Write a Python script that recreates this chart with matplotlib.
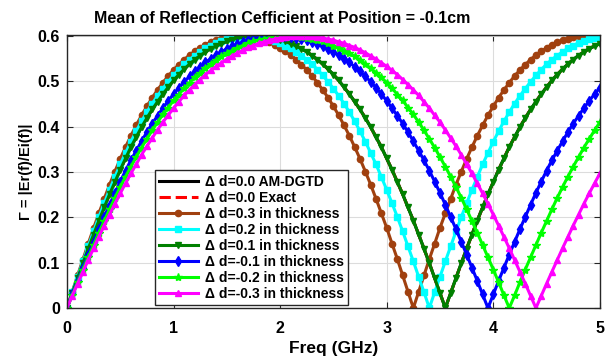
import numpy as np
import matplotlib
matplotlib.use("Agg")
import matplotlib.pyplot as plt

# Frequency samples (GHz), 0.05 GHz spacing
freq = np.round(np.arange(101) * 0.05, 2)

# |Er/Ei| values
base = [0.000, 0.033, 0.066, 0.099, 0.131, 0.162, 0.193, 0.222, 0.251, 0.278, 0.305, 0.330, 0.355, 0.377, 0.399, 0.419, 0.438, 0.455, 0.472, 0.487, 0.502, 0.515, 0.527, 0.538, 0.548, 0.557, 0.565, 0.572, 0.578, 0.583, 0.588, 0.592, 0.595, 0.597, 0.599, 0.600,
        0.600, 0.599, 0.597, 0.595, 0.592, 0.588, 0.583, 0.578, 0.572, 0.565, 0.557, 0.548, 0.538, 0.527, 0.515, 0.502, 0.487, 0.472, 0.455, 0.438, 0.419, 0.399, 0.377, 0.355, 0.330, 0.305, 0.278, 0.251, 0.222, 0.193, 0.162, 0.131, 0.099, 0.066, 0.033, 0.000,
        0.033, 0.066, 0.099, 0.131, 0.162, 0.193, 0.222, 0.251, 0.278, 0.305, 0.330, 0.355, 0.377, 0.399, 0.419, 0.438, 0.455, 0.472, 0.487, 0.502, 0.515, 0.527, 0.538, 0.548, 0.557, 0.565, 0.572, 0.578, 0.583]
exact = list(base)

thk_p03 = [0.000, 0.036, 0.072, 0.107, 0.142, 0.176, 0.209, 0.241, 0.272, 0.301, 0.329, 0.355, 0.380, 0.403, 0.425, 0.445, 0.464, 0.481, 0.497, 0.512, 0.525, 0.537, 0.548, 0.558, 0.566, 0.574, 0.581, 0.586, 0.591, 0.594, 0.597, 0.599, 0.600,
           0.600, 0.599, 0.597, 0.594, 0.591, 0.586, 0.581, 0.574, 0.566, 0.558, 0.548, 0.537, 0.525, 0.512, 0.497, 0.481, 0.464, 0.445, 0.425, 0.403, 0.380, 0.355, 0.329, 0.301, 0.272, 0.241, 0.209, 0.177, 0.142, 0.108, 0.072, 0.036, 0.000,
           0.036, 0.072, 0.108, 0.142, 0.177, 0.209, 0.241, 0.272, 0.301, 0.329, 0.355, 0.380, 0.403, 0.425, 0.445, 0.464, 0.481, 0.497, 0.512, 0.525, 0.537, 0.548, 0.558, 0.566, 0.574, 0.581, 0.586, 0.591, 0.594, 0.597, 0.599, 0.600, 0.600, 0.599, 0.597]

thk_p02 = [0.000, 0.035, 0.069, 0.103, 0.136, 0.169, 0.201, 0.231, 0.261, 0.289, 0.317, 0.342, 0.367, 0.390, 0.412, 0.432, 0.451, 0.468, 0.484, 0.499, 0.513, 0.526, 0.538, 0.548, 0.557, 0.565, 0.573, 0.579, 0.585, 0.589, 0.593, 0.596, 0.598, 0.599, 0.600,
           0.599, 0.598, 0.596, 0.593, 0.589, 0.585, 0.579, 0.573, 0.565, 0.557, 0.548, 0.538, 0.526, 0.513, 0.499, 0.484, 0.468, 0.451, 0.432, 0.412, 0.390, 0.367, 0.342, 0.317, 0.289, 0.261, 0.231, 0.201, 0.169, 0.136, 0.103, 0.069, 0.035, 0.000,
           0.035, 0.069, 0.103, 0.136, 0.169, 0.201, 0.231, 0.261, 0.289, 0.317, 0.342, 0.367, 0.390, 0.412, 0.432, 0.451, 0.468, 0.484, 0.499, 0.513, 0.526, 0.538, 0.548, 0.557, 0.565, 0.573, 0.579, 0.585, 0.589, 0.593, 0.596, 0.598]

# the +0.1 curve sits on top of the base curve
thk_p01 = list(base)

thk_m01 = [0.000, 0.030, 0.060, 0.089, 0.118, 0.146, 0.174, 0.201, 0.228, 0.254, 0.279, 0.303, 0.326, 0.347, 0.368, 0.388, 0.407, 0.424, 0.441, 0.457, 0.472, 0.486, 0.499, 0.511, 0.522, 0.532, 0.542, 0.550, 0.558, 0.565, 0.572, 0.577, 0.582, 0.587, 0.591, 0.594, 0.596, 0.598, 0.599, 0.600,
           0.600, 0.599, 0.598, 0.596, 0.594, 0.591, 0.587, 0.582, 0.577, 0.572, 0.565, 0.558, 0.550, 0.542, 0.532, 0.522, 0.511, 0.499, 0.486, 0.472, 0.457, 0.441, 0.424, 0.407, 0.388, 0.368, 0.347, 0.326, 0.303, 0.279, 0.254, 0.228, 0.201, 0.174, 0.146, 0.118, 0.089, 0.060, 0.030, 0.000,
           0.030, 0.060, 0.089, 0.118, 0.146, 0.174, 0.201, 0.228, 0.254, 0.279, 0.303, 0.326, 0.347, 0.368, 0.388, 0.407, 0.424, 0.441, 0.457, 0.472, 0.486]

thk_m02 = [0.000, 0.028, 0.057, 0.085, 0.112, 0.139, 0.166, 0.192, 0.218, 0.243, 0.267, 0.290, 0.312, 0.333, 0.354, 0.373, 0.392, 0.410, 0.427, 0.442, 0.458, 0.471, 0.485, 0.497, 0.509, 0.519, 0.529, 0.538, 0.547, 0.555, 0.562, 0.568, 0.574, 0.579, 0.584, 0.588, 0.591, 0.594, 0.596, 0.598, 0.599, 0.600,
           0.600, 0.599, 0.598, 0.596, 0.594, 0.591, 0.588, 0.584, 0.579, 0.574, 0.568, 0.562, 0.555, 0.547, 0.538, 0.529, 0.519, 0.509, 0.497, 0.485, 0.471, 0.458, 0.442, 0.427, 0.410, 0.392, 0.373, 0.354, 0.333, 0.312, 0.290, 0.267, 0.243, 0.218, 0.192, 0.166, 0.139, 0.112, 0.085, 0.057, 0.028, 0.000,
           0.028, 0.057, 0.085, 0.112, 0.139, 0.166, 0.192, 0.218, 0.243, 0.267, 0.290, 0.312, 0.333, 0.354, 0.373, 0.392, 0.410]

thk_m03 = [0.000, 0.027, 0.054, 0.080, 0.106, 0.132, 0.157, 0.182, 0.206, 0.230, 0.253, 0.275, 0.297, 0.317, 0.338, 0.357, 0.375, 0.393, 0.410, 0.425, 0.441, 0.455, 0.469, 0.481, 0.493, 0.504, 0.515, 0.524, 0.533, 0.541, 0.549, 0.556, 0.563, 0.569, 0.575, 0.579, 0.584, 0.587, 0.591, 0.593, 0.596, 0.597, 0.599, 0.600, 0.600,
           0.600, 0.599, 0.597, 0.596, 0.593, 0.591, 0.587, 0.584, 0.579, 0.575, 0.569, 0.563, 0.556, 0.549, 0.541, 0.533, 0.524, 0.515, 0.504, 0.493, 0.481, 0.469, 0.455, 0.441, 0.425, 0.410, 0.393, 0.375, 0.357, 0.338, 0.317, 0.297, 0.275, 0.253, 0.230, 0.206, 0.182, 0.157, 0.132, 0.106, 0.080, 0.054, 0.027, 0.000,
           0.027, 0.054, 0.080, 0.106, 0.132, 0.157, 0.182, 0.206, 0.230, 0.253, 0.275, 0.297]

labels = ['Δ d=0.0 AM-DGTD', 'Δ d=0.0 Exact',
          'Δ d=0.3 in thickness', 'Δ d=0.2 in thickness', 'Δ d=0.1 in thickness',
          'Δ d=-0.1 in thickness', 'Δ d=-0.2 in thickness', 'Δ d=-0.3 in thickness']

plt.rcParams['font.family'] = ['Liberation Sans', 'DejaVu Sans']
plt.rcParams['font.weight'] = 'bold'

fig = plt.figure(figsize=(6.14, 3.62), dpi=100)
ax = fig.add_axes([0.109, 0.149, 0.868, 0.754])

ax.plot(freq, base, color='black', lw=2.2, label=labels[0])
ax.plot(freq, exact, color='red', lw=2.2, ls='--', label=labels[1])
ax.plot(freq, thk_p03, color='#A0400F', lw=2.2, marker='o', ms=4.5, label=labels[2])
ax.plot(freq, thk_p02, color='#00FFFF', lw=2.2, marker='s', ms=4.5, label=labels[3])
ax.plot(freq, thk_p01, color='#008000', lw=2.2, marker='v', ms=5, label=labels[4])
ax.plot(freq, thk_m01, color='#0000FF', lw=2.2, marker='d', ms=5, label=labels[5])
ax.plot(freq, thk_m02, color='#00FF00', lw=2.2, marker='*', ms=6, label=labels[6])
ax.plot(freq, thk_m03, color='#FF00FF', lw=2.2, marker='^', ms=5, label=labels[7])

ax.set_xlim(0, 5)
ax.set_ylim(0, 0.602)
ax.set_xticks([0, 1, 2, 3, 4, 5])
ax.set_yticks([0, 0.1, 0.2, 0.3, 0.4, 0.5, 0.6])
ax.set_xticklabels(['0', '1', '2', '3', '4', '5'])
ax.set_yticklabels(['0', '0.1', '0.2', '0.3', '0.4', '0.5', '0.6'])
ax.tick_params(direction='in', top=True, right=True, labelsize=11.5, length=4, color='#262626')
ax.tick_params(axis='x', pad=9)
ax.tick_params(axis='y', pad=5)
ax.grid(True, color='#dcdcdc', lw=0.8)
ax.set_axisbelow(True)
for s in ax.spines.values():
    s.set_color('#262626')
    s.set_linewidth(1)

ax.set_xlabel('Freq (GHz)', fontsize=12.5, fontweight='bold', labelpad=4)
ax.set_ylabel('Γ = |Er(f)/Ei(f)|', fontsize=10.5, fontweight='bold', labelpad=3)
ax.set_title('Mean of Reflection Cefficient at Position = -0.1cm', fontsize=11.5,
             fontweight='bold', pad=9, x=0.403)

leg = ax.legend(loc='lower left', bbox_to_anchor=(0.165, 0.01), borderaxespad=0,
                fontsize=10, handlelength=2.8, labelspacing=0.15, fancybox=False,
                framealpha=1, edgecolor='#262626', borderpad=0.3, handletextpad=0.5)
leg.get_frame().set_linewidth(1)

fig.savefig('out.png', dpi=100)
